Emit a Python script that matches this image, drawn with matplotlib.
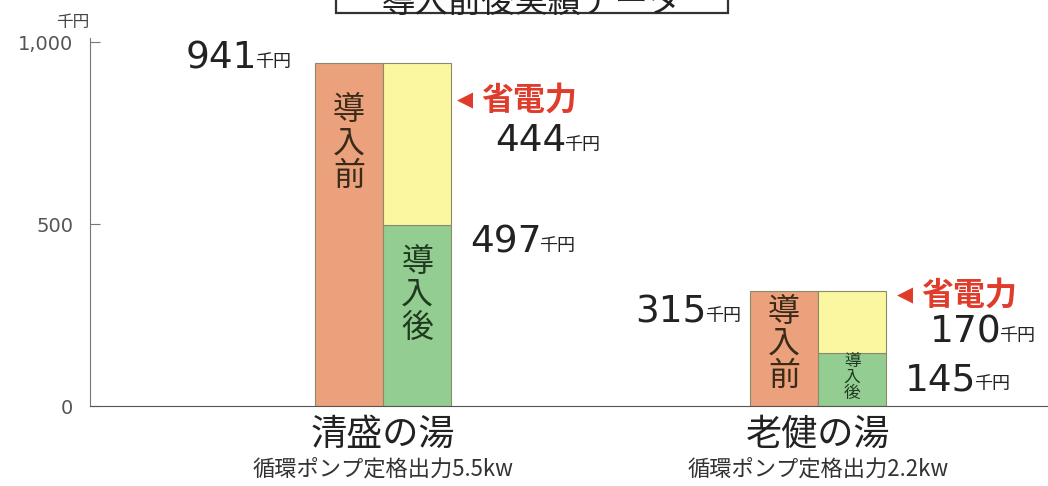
import matplotlib.pyplot as plt
from matplotlib.patches import Rectangle

plt.rcParams['font.family'] = ['Noto Sans CJK JP', 'DejaVu Sans']

# data (千円)
sites = ['清盛の湯', '老健の湯']
pumps = ['循環ポンプ定格出力5.5kw', '循環ポンプ定格出力2.2kw']
before = [941, 315]
after = [497, 145]
saving = [444, 170]

W, H = 1048, 486
fig = plt.figure(figsize=(W / 100, H / 100), dpi=100)
# axes placed in pixel terms of the reference
ax = fig.add_axes([90 / W, (H - 406) / H, (W - 90) / W, (406 - 42) / H])

bw = 0.157
x = [0, 1]
c_before = '#eba27c'
c_after = '#93cd92'
c_save = '#fbf7a0'
edge = '#8a8a6a'

ax.bar([i - bw / 2 for i in x], before, width=bw, color=c_before, edgecolor=edge, linewidth=0.8)
ax.bar([i + bw / 2 for i in x], after, width=bw, color=c_after, edgecolor=edge, linewidth=0.8)
ax.bar([i + bw / 2 for i in x], saving, bottom=after, width=bw, color=c_save,
       edgecolor=edge, linewidth=0.8)

ax.set_xlim(-0.674, 1.529)
ax.set_ylim(0, 1000)
ax.set_yticks([0, 500, 1000])
ax.set_yticklabels(['0', '500', '1,000'], fontsize=14, color='#555555', family='DejaVu Sans')
ax.tick_params(axis='y', direction='in', length=7, color='#777777', pad=12)
ax.set_xticks([])
for s in ['top', 'right']:
    ax.spines[s].set_visible(False)
ax.spines['left'].set_color('#777777')
ax.spines['bottom'].set_color('#555555')
ax.spines['left'].set_bounds(0, 1010)
fig.text(73 / W, 1 - 22 / H, '千円', fontsize=12, color='#444444', ha='center', va='center')

PT = 0.72  # px -> pt at 100 dpi


def money(xd, yd, dx, dy, value, big=27):
    # number ends at dx (px), unit follows
    ax.annotate(str(value), (xd, yd), xytext=(dx * PT, dy * PT), textcoords='offset points',
                ha='right', va='center', fontsize=big, color='#222222', family='DejaVu Sans',
                annotation_clip=False)
    ax.annotate('千円', (xd, yd), xytext=((dx - 2) * PT, (dy - 4) * PT),
                textcoords='offset points', ha='left', va='center', fontsize=13,
                color='#222222', annotation_clip=False)


def shoden(xd, yd, dx, dy):
    ax.annotate('◀', (xd, yd), xytext=(dx * PT, dy * PT), textcoords='offset points',
                ha='left', va='center', fontsize=15, color='#e03c2c', family='DejaVu Sans',
                annotation_clip=False)
    ax.annotate('省電力', (xd, yd), xytext=((dx + 24) * PT, dy * PT), textcoords='offset points',
                ha='left', va='center', fontsize=23, color='#e03c2c', fontweight='bold',
                annotation_clip=False)


# label offsets in px for each group: (before, saving value, after value, 省電力)
off_before = [(-58, 5), (-43, -21)]
off_save = [(115, -78), (115, -41)]
off_after = [(90, -17), (90, -27)]
off_sho = [(6, -37), (11, -4)]

for i in x:
    left = i - bw
    right = i + bw
    money(left, before[i], off_before[i][0], off_before[i][1], before[i])
    money(right, before[i], off_save[i][0], off_save[i][1], saving[i])
    money(right, after[i], off_after[i][0], off_after[i][1], after[i])
    shoden(right, before[i], off_sho[i][0], off_sho[i][1])

    ax.text(i, -80, sites[i], ha='center', va='center', fontsize=26, color='#222222')
    ax.text(i, -172, pumps[i], ha='center', va='center', fontsize=16, color='#333333')

# vertical labels inside bars
ax.text(-bw / 2, 722, '導\n入\n前', ha='center', va='center', fontsize=23,
        color='#3a2a1a', linespacing=1.05)
ax.text(bw / 2, 305, '導\n入\n後', ha='center', va='center', fontsize=23,
        color='#1f3a1f', linespacing=1.05)
ax.text(1 - bw / 2, 170, '導\n入\n前', ha='center', va='center', fontsize=23,
        color='#3a2a1a', linespacing=1.0)
ax.text(1 + bw / 2, 78, '導\n入\n後', ha='center', va='center', fontsize=12,
        color='#1f3a1f', linespacing=0.9)

# clipped title box at the very top
fig.patches.append(Rectangle((336 / W, 1 - 13 / H), (728 - 336) / W, 0.2,
                             transform=fig.transFigure, facecolor='white',
                             edgecolor='#333333', linewidth=1.6, zorder=5))
fig.text(532 / W, 1 - 2 / H, '導入前後実績データ', fontsize=24, ha='center', va='center',
         color='#222222', zorder=6)

fig.savefig('out.png', dpi=100)
